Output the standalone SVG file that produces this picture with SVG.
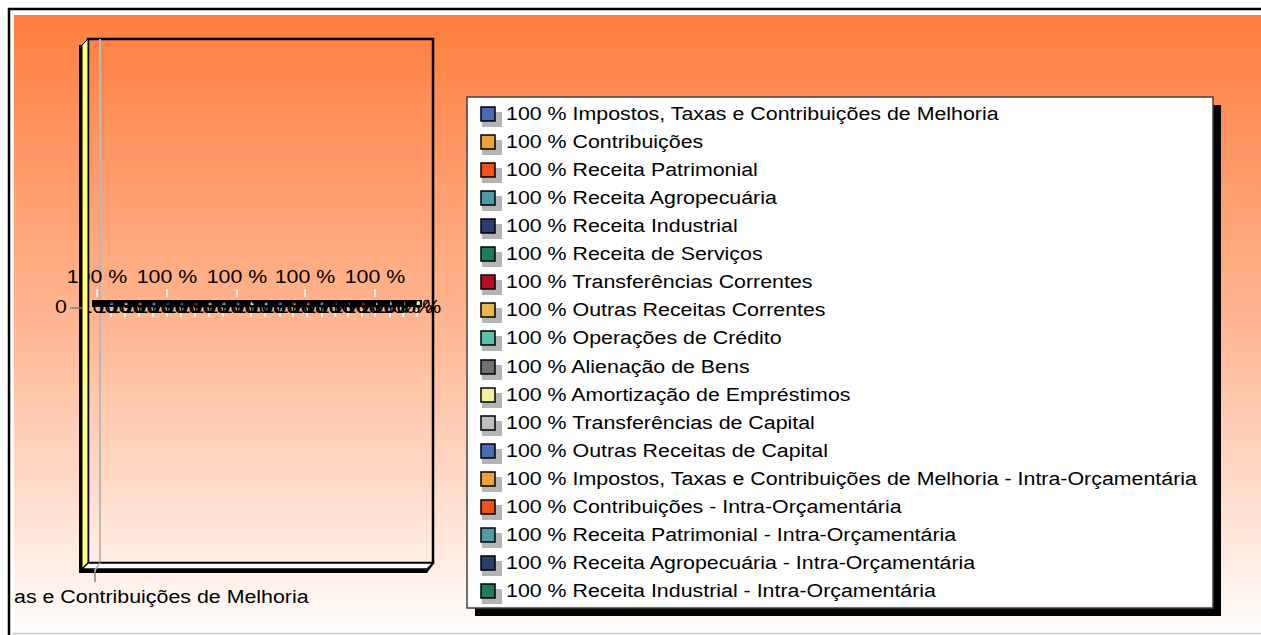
<svg xmlns="http://www.w3.org/2000/svg" width="1261" height="635" viewBox="0 0 1261 635">
<defs>
<linearGradient id="bg" x1="0" y1="15" x2="0" y2="632" gradientUnits="userSpaceOnUse">
<stop offset="0" stop-color="#FF7E3F"/>
<stop offset="0.5" stop-color="#FFB692"/>
<stop offset="1" stop-color="#FFFDFB"/>
</linearGradient>
<style>
.t{font-family:"Liberation Sans",Arial,sans-serif;font-size:19px;fill:#000}
.m{text-anchor:middle}
.sh{fill:#B4B4B4}
.mk{stroke:#000;stroke-width:1.5}
.wt{stroke:#fff;stroke-width:1.5}
</style>
</defs>
<rect x="0" y="0" width="1261" height="635" fill="#fff"/>
<rect x="14" y="15" width="1247" height="617" fill="url(#bg)"/>
<line x1="8" y1="9" x2="1261" y2="9" stroke="#000" stroke-width="2.5"/>
<line x1="9" y1="8" x2="9" y2="635" stroke="#000" stroke-width="2.5"/>
<line x1="13" y1="633.5" x2="1261" y2="633.5" stroke="#C8C8C8" stroke-width="1.5"/>

<g id="plot">
<rect x="88" y="39" width="345" height="524" fill="none" stroke="#000" stroke-width="2.5"/>
<line x1="100" y1="39" x2="100" y2="565" stroke="#B8B8B8" stroke-width="2"/>
<g id="top-labels">
<line class="wt" x1="97" y1="289" x2="97" y2="297"/>
<line class="wt" x1="167" y1="289" x2="167" y2="297"/>
<line class="wt" x1="237" y1="289" x2="237" y2="297"/>
<line class="wt" x1="305" y1="289" x2="305" y2="297"/>
<line class="wt" x1="375" y1="289" x2="375" y2="297"/>
<text class="t m" transform="translate(97,283) scale(1.125,1)">100 %</text>
<text class="t m" transform="translate(167,283) scale(1.125,1)">100 %</text>
<text class="t m" transform="translate(237,283) scale(1.125,1)">100 %</text>
<text class="t m" transform="translate(305,283) scale(1.125,1)">100 %</text>
<text class="t m" transform="translate(375,283) scale(1.125,1)">100 %</text>
</g>
<g id="band">
<rect x="92" y="300" width="330" height="7" fill="#000"/>
<rect x="110" y="301" width="4" height="4" fill="#4A6CB0"/>
<rect x="124" y="301" width="4" height="4" fill="#F0A23A"/>
<rect x="138" y="301" width="4" height="4" fill="#F0501A"/>
<rect x="152" y="301" width="4" height="4" fill="#4E9AAA"/>
<rect x="166" y="301" width="4" height="4" fill="#2C3F6E"/>
<rect x="180" y="301" width="4" height="4" fill="#1F7A62"/>
<rect x="194" y="301" width="4" height="4" fill="#B01020"/>
<rect x="208" y="301" width="4" height="4" fill="#E8B850"/>
<rect x="222" y="301" width="4" height="4" fill="#5FBFA8"/>
<rect x="236" y="301" width="4" height="4" fill="#707070"/>
<rect x="250" y="301" width="4" height="4" fill="#F5F0A0"/>
<rect x="264" y="301" width="4" height="4" fill="#BFBFBF"/>
<rect x="278" y="301" width="4" height="4" fill="#4A6CB0"/>
<rect x="292" y="301" width="4" height="4" fill="#F0A23A"/>
<rect x="306" y="301" width="4" height="4" fill="#F0501A"/>
<rect x="320" y="301" width="4" height="4" fill="#4E9AAA"/>
<rect x="334" y="301" width="4" height="4" fill="#2C3F6E"/>
<rect x="348" y="301" width="4" height="4" fill="#1F7A62"/>
<rect x="362" y="301" width="4" height="4" fill="#B01020"/>
<rect x="376" y="301" width="4" height="4" fill="#E8B850"/>
<rect x="390" y="301" width="4" height="4" fill="#5FBFA8"/>
<rect x="404" y="301" width="4" height="4" fill="#707070"/>
<rect x="416" y="301" width="4" height="4" fill="#F5F0A0"/>
<path class="wt" d="M111 310v7M125 310v7M139 310v7M153 310v7M167 310v7M181 310v7M195 310v7M209 310v7M223 310v7M251 310v7M265 310v7M280 310v7M293 310v7M307 310v7M322 310v7M335 310v7M348 310v7M362 310v7M375 310v7M390 310v7M403 310v7M417 310v7"/>
<text class="t m" transform="translate(111,313) scale(1.125,1)">100 %</text>
<text class="t m" transform="translate(125,313) scale(1.125,1)">100 %</text>
<text class="t m" transform="translate(139,313) scale(1.125,1)">100 %</text>
<text class="t m" transform="translate(153,313) scale(1.125,1)">100 %</text>
<text class="t m" transform="translate(167,313) scale(1.125,1)">100 %</text>
<text class="t m" transform="translate(181,313) scale(1.125,1)">100 %</text>
<text class="t m" transform="translate(195,313) scale(1.125,1)">100 %</text>
<text class="t m" transform="translate(209,313) scale(1.125,1)">100 %</text>
<text class="t m" transform="translate(223,313) scale(1.125,1)">100 %</text>
<text class="t m" transform="translate(237,313) scale(1.125,1)">100 %</text>
<text class="t m" transform="translate(251,313) scale(1.125,1)">100 %</text>
<text class="t m" transform="translate(265,313) scale(1.125,1)">100 %</text>
<text class="t m" transform="translate(280,313) scale(1.125,1)">100 %</text>
<text class="t m" transform="translate(293,313) scale(1.125,1)">100 %</text>
<text class="t m" transform="translate(307,313) scale(1.125,1)">100 %</text>
<text class="t m" transform="translate(322,313) scale(1.125,1)">100 %</text>
<text class="t m" transform="translate(335,313) scale(1.125,1)">100 %</text>
<text class="t m" transform="translate(348,313) scale(1.125,1)">100 %</text>
<text class="t m" transform="translate(362,313) scale(1.125,1)">100 %</text>
<text class="t m" transform="translate(375,313) scale(1.125,1)">100 %</text>
<text class="t m" transform="translate(390,313) scale(1.125,1)">100 %</text>
<text class="t m" transform="translate(403,313) scale(1.125,1)">100 %</text>
<text class="t m" transform="translate(411,313) scale(1.125,1)">100 %</text>
</g>
<rect x="79" y="45" width="4" height="528" fill="#000"/>
<polygon points="82,45 88,39 88,563 82,569" fill="#FFFF80" stroke="#000" stroke-width="1"/>
<polygon points="88,563 433,563 427,569 82,569" fill="#fff" stroke="#000" stroke-width="1.5"/>
<polygon points="82,569 427,569 433,563 433,565 427,573 82,573" fill="#000"/>
<polyline points="100,563 95,570 95,572" fill="none" stroke="#B8B8B8" stroke-width="1.5"/>
<line x1="95" y1="572" x2="95" y2="582" stroke="#808080" stroke-width="1.5"/>
<line x1="70" y1="308" x2="82" y2="308" stroke="#808080" stroke-width="1.5"/>
<text class="t" text-anchor="end" transform="translate(67,313) scale(1.125,1)">0</text>
<text class="t" transform="translate(14,603) scale(1.125,1)">as e Contribuições de Melhoria</text>
</g>

<g id="legend">
<rect x="475" y="105" width="746" height="511" fill="#000"/>
<rect x="467" y="97" width="746" height="511" fill="#fff" stroke="#404040" stroke-width="1.5"/>
<g id="leg1"><rect class="sh" x="482" y="112" width="20" height="15"/><rect class="mk" x="481" y="107" width="14" height="14" fill="#4A6CB0"/><text class="t" transform="translate(506,120) scale(1.125,1)">100 % Impostos, Taxas e Contribuições de Melhoria</text></g>
<g id="leg2"><rect class="sh" x="482" y="140" width="20" height="15"/><rect class="mk" x="481" y="135" width="14" height="14" fill="#F0A23A"/><text class="t" transform="translate(506,148) scale(1.125,1)">100 % Contribuições</text></g>
<g id="leg3"><rect class="sh" x="482" y="168" width="20" height="15"/><rect class="mk" x="481" y="163" width="14" height="14" fill="#F0501A"/><text class="t" transform="translate(506,176) scale(1.125,1)">100 % Receita Patrimonial</text></g>
<g id="leg4"><rect class="sh" x="482" y="196" width="20" height="15"/><rect class="mk" x="481" y="191" width="14" height="14" fill="#4E9AAA"/><text class="t" transform="translate(506,204) scale(1.125,1)">100 % Receita Agropecuária</text></g>
<g id="leg5"><rect class="sh" x="482" y="224" width="20" height="15"/><rect class="mk" x="481" y="219" width="14" height="14" fill="#2C3F6E"/><text class="t" transform="translate(506,232) scale(1.125,1)">100 % Receita Industrial</text></g>
<g id="leg6"><rect class="sh" x="482" y="252" width="20" height="15"/><rect class="mk" x="481" y="247" width="14" height="14" fill="#1F7A62"/><text class="t" transform="translate(506,260) scale(1.125,1)">100 % Receita de Serviços</text></g>
<g id="leg7"><rect class="sh" x="482" y="280" width="20" height="15"/><rect class="mk" x="481" y="275" width="14" height="14" fill="#B01020"/><text class="t" transform="translate(506,288) scale(1.125,1)">100 % Transferências Correntes</text></g>
<g id="leg8"><rect class="sh" x="482" y="308" width="20" height="15"/><rect class="mk" x="481" y="303" width="14" height="14" fill="#E8B850"/><text class="t" transform="translate(506,316) scale(1.125,1)">100 % Outras Receitas Correntes</text></g>
<g id="leg9"><rect class="sh" x="482" y="336" width="20" height="15"/><rect class="mk" x="481" y="331" width="14" height="14" fill="#5FBFA8"/><text class="t" transform="translate(506,344) scale(1.125,1)">100 % Operações de Crédito</text></g>
<g id="leg10"><rect class="sh" x="482" y="365" width="20" height="15"/><rect class="mk" x="481" y="360" width="14" height="14" fill="#707070"/><text class="t" transform="translate(506,373) scale(1.125,1)">100 % Alienação de Bens</text></g>
<g id="leg11"><rect class="sh" x="482" y="393" width="20" height="15"/><rect class="mk" x="481" y="388" width="14" height="14" fill="#F5F0A0"/><text class="t" transform="translate(506,401) scale(1.125,1)">100 % Amortização de Empréstimos</text></g>
<g id="leg12"><rect class="sh" x="482" y="421" width="20" height="15"/><rect class="mk" x="481" y="416" width="14" height="14" fill="#BFBFBF"/><text class="t" transform="translate(506,429) scale(1.125,1)">100 % Transferências de Capital</text></g>
<g id="leg13"><rect class="sh" x="482" y="449" width="20" height="15"/><rect class="mk" x="481" y="444" width="14" height="14" fill="#4A6CB0"/><text class="t" transform="translate(506,457) scale(1.125,1)">100 % Outras Receitas de Capital</text></g>
<g id="leg14"><rect class="sh" x="482" y="477" width="20" height="15"/><rect class="mk" x="481" y="472" width="14" height="14" fill="#F0A23A"/><text class="t" transform="translate(506,485) scale(1.125,1)">100 % Impostos, Taxas e Contribuições de Melhoria - Intra-Orçamentária</text></g>
<g id="leg15"><rect class="sh" x="482" y="505" width="20" height="15"/><rect class="mk" x="481" y="500" width="14" height="14" fill="#F0501A"/><text class="t" transform="translate(506,513) scale(1.125,1)">100 % Contribuições - Intra-Orçamentária</text></g>
<g id="leg16"><rect class="sh" x="482" y="533" width="20" height="15"/><rect class="mk" x="481" y="528" width="14" height="14" fill="#4E9AAA"/><text class="t" transform="translate(506,541) scale(1.125,1)">100 % Receita Patrimonial - Intra-Orçamentária</text></g>
<g id="leg17"><rect class="sh" x="482" y="561" width="20" height="15"/><rect class="mk" x="481" y="556" width="14" height="14" fill="#2C3F6E"/><text class="t" transform="translate(506,569) scale(1.125,1)">100 % Receita Agropecuária - Intra-Orçamentária</text></g>
<g id="leg18"><rect class="sh" x="482" y="589" width="20" height="15"/><rect class="mk" x="481" y="584" width="14" height="14" fill="#1F7A62"/><text class="t" transform="translate(506,597) scale(1.125,1)">100 % Receita Industrial - Intra-Orçamentária</text></g>
</g>
</svg>
